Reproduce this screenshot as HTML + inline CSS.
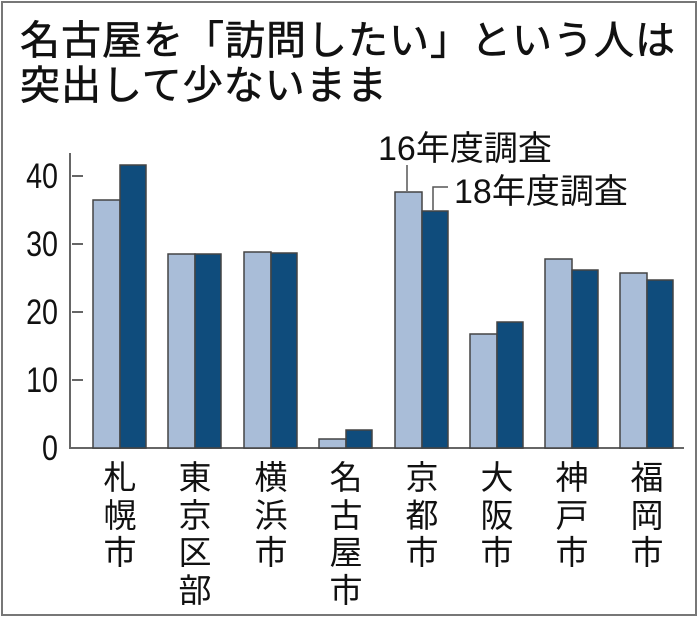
<!DOCTYPE html>
<html><head><meta charset="utf-8"><style>
html,body{margin:0;padding:0;background:#fff;}
body{width:698px;height:617px;position:relative;overflow:hidden;font-family:"Liberation Sans","Noto Sans CJK JP",sans-serif;}
.frame{position:absolute;left:1px;top:1px;width:692px;height:611px;border:2px solid #777;}
.t{position:absolute;left:20px;font-size:40px;color:#111;white-space:nowrap;line-height:1;letter-spacing:1px;-webkit-text-stroke:0.6px #111;}
.lab{position:absolute;top:459px;width:40px;font-size:33px;line-height:37.5px;text-align:center;color:#111;}
</style></head><body>
<div class="frame"></div>
<div class="t" style="top:21px;">名古屋を「訪問したい」という人は</div>
<div class="t" style="top:66px;">突出して少ないまま</div>
<svg width="698" height="617" style="position:absolute;left:0;top:0">
<g font-family="Liberation Sans, sans-serif" font-size="35" fill="#111" text-anchor="end">
<text transform="translate(58,188) scale(0.82,1)">40</text>
<text transform="translate(58,256) scale(0.82,1)">30</text>
<text transform="translate(58,324) scale(0.82,1)">20</text>
<text transform="translate(58,392) scale(0.82,1)">10</text>
<text transform="translate(58,460) scale(0.82,1)">0</text>
</g>
<g stroke="#666" stroke-width="2">
<line x1="70" y1="153" x2="70" y2="449"/>
<line x1="69" y1="448" x2="684" y2="448"/>
<line x1="72" y1="176" x2="83" y2="176"/>
<line x1="72" y1="244" x2="83" y2="244"/>
<line x1="72" y1="312" x2="83" y2="312"/>
<line x1="72" y1="380" x2="83" y2="380"/>
</g>
<g stroke="#444" stroke-width="1.5">
<rect x="93" y="200" width="27" height="248" fill="#a9bdd8"/>
<rect x="120" y="165" width="26" height="283" fill="#0f4c7c"/>
<rect x="168" y="254" width="27" height="194" fill="#a9bdd8"/>
<rect x="195" y="254" width="26" height="194" fill="#0f4c7c"/>
<rect x="244" y="252" width="27" height="196" fill="#a9bdd8"/>
<rect x="271" y="253" width="26" height="195" fill="#0f4c7c"/>
<rect x="319" y="439" width="27" height="9" fill="#a9bdd8"/>
<rect x="346" y="430" width="26" height="18" fill="#0f4c7c"/>
<rect x="395" y="192" width="27" height="256" fill="#a9bdd8"/>
<rect x="422" y="211" width="26" height="237" fill="#0f4c7c"/>
<rect x="470" y="334" width="27" height="114" fill="#a9bdd8"/>
<rect x="497" y="322" width="26" height="126" fill="#0f4c7c"/>
<rect x="545" y="259" width="27" height="189" fill="#a9bdd8"/>
<rect x="572" y="270" width="26" height="178" fill="#0f4c7c"/>
<rect x="620" y="273" width="27" height="175" fill="#a9bdd8"/>
<rect x="647" y="280" width="26" height="168" fill="#0f4c7c"/>
</g>
<g stroke="#555" stroke-width="1.5" fill="none">
<line x1="407" y1="165" x2="407" y2="191"/>
<polyline points="433,210 433,187 448,187"/>
</g>
<g font-family="Liberation Sans, Noto Sans CJK JP, sans-serif" font-size="34" fill="#111">
<text x="378" y="160">16年度調査</text>
<text x="454" y="203">18年度調査</text>
</g>
</svg>
<div class="lab" style="left:100px">札<br>幌<br>市</div>
<div class="lab" style="left:175px">東<br>京<br>区<br>部</div>
<div class="lab" style="left:251px">横<br>浜<br>市</div>
<div class="lab" style="left:326px">名<br>古<br>屋<br>市</div>
<div class="lab" style="left:402px">京<br>都<br>市</div>
<div class="lab" style="left:477px">大<br>阪<br>市</div>
<div class="lab" style="left:552px">神<br>戸<br>市</div>
<div class="lab" style="left:627px">福<br>岡<br>市</div>
</body></html>
